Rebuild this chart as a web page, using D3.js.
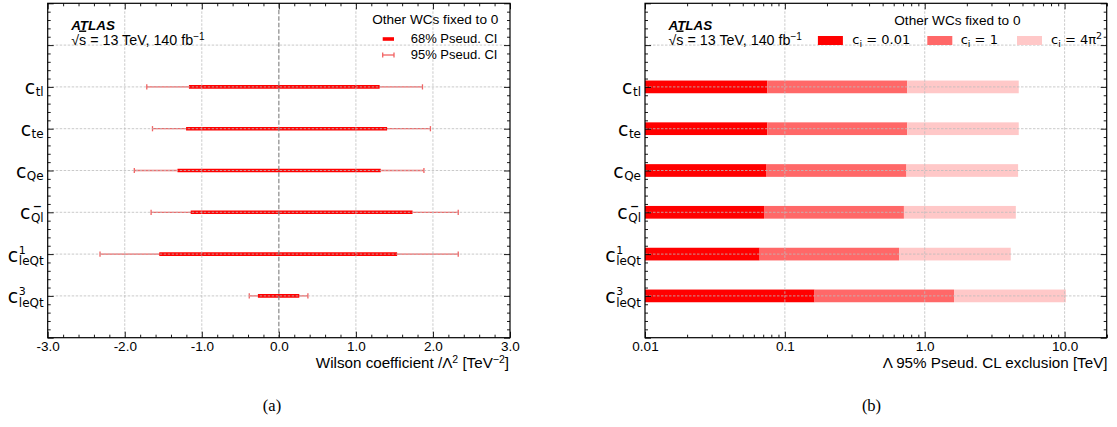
<!DOCTYPE html>
<html><head><meta charset="utf-8">
<script src="https://cdn.jsdelivr.net/npm/d3@7"></script>
<style>
body{margin:0;background:#fff;}
svg{display:block;font-family:"Liberation Sans",Arial,sans-serif;}
</style>
</head><body>
<svg id="chart" width="1117" height="427"></svg>
<script>
// ---------------- data ----------------
const categories = ["ctl", "cte", "cQe", "cQl", "c1leQt", "c3leQt"];
const labelSub = ["tl", "te", "Qe", "Ql", "leQt", "leQt"];
const labelSup = ["", "", "", "\u2212", "1", "3"];
// panel (a): Wilson coefficient / Lambda^2 intervals [TeV^-2]
const ci68Low  = [-1.167, -1.204, -1.315, -1.144, -1.552, -0.272];
const ci68High = [ 1.308,  1.405,  1.322,  1.735,  1.535,  0.265];
const ci95Low  = [-1.714, -1.640, -1.876, -1.658, -2.321, -0.384];
const ci95High = [ 1.864,  1.967,  1.883,  2.328,  2.328,  0.377];
// panel (b): Lambda 95% exclusion [TeV]
const lambdaC001  = [0.075, 0.075, 0.074, 0.071, 0.066, 0.163];
const lambdaC1    = [0.75,  0.75,  0.74,  0.71,  0.655, 1.62];
const lambdaC4pi2 = [4.70,  4.70,  4.65,  4.48,  4.12,  10.2];
const legendValues = ["0.01", "1", "4\u03c0"];
const xTicksA = [-3, -2, -1, 0, 1, 2, 3];
const xTickLabelsA = ["-3.0", "-2.0", "-1.0", "0.0", "1.0", "2.0", "3.0"];
const xTicksB = [0.01, 0.1, 1, 10];
const xTickLabelsB = ["0.01", "0.1", "1.0", "10.0"];

// ---------------- layout ----------------
const svg = d3.select("#chart");
const TOP = 3.3, BOTTOM = 337.7;
const A = {x0: 47.7, x1: 510};
const B = {x0: 645, x1: 1106.7};
const y = d3.scaleLinear().domain([0, 8]).range([BOTTOM, TOP]);
const yOf = i => y(categories.length - i);
const xA = d3.scaleLinear().domain([-3, 3]).range([A.x0, A.x1]);
const xB = d3.scaleLog().domain([0.01, 20]).range([B.x0, B.x1]);

const RED = "#ff0000", RED95 = "#f26262";
const COLS = ["#ff0000", "#ff6868", "#ffc8c8"];
const GRID = "#bdbdbd";
const yMajor = d3.range(0, 9);
const yMinor = d3.range(0, 8.001, 0.2).filter(v => Math.abs(v - Math.round(v)) > 1e-6);
const DV = "DejaVu Sans, sans-serif";

function frameAxes(g, x, panel, majors, labels, minors) {
  const w = panel.x1 - panel.x0;
  const bMaj = d3.axisBottom(x).tickValues(majors).tickSize(-6).tickPadding(3.3)
    .tickFormat((d, i) => labels[i]);
  const bMin = d3.axisBottom(x).tickValues(minors).tickSize(-3).tickFormat("");
  const tMaj = d3.axisTop(x).tickValues(majors).tickSize(-6).tickFormat("");
  const tMin = d3.axisTop(x).tickValues(minors).tickSize(-3).tickFormat("");
  const lMaj = d3.axisLeft(y).tickValues(yMajor).tickSize(-6).tickFormat("");
  const lMin = d3.axisLeft(y).tickValues(yMinor).tickSize(-3).tickFormat("");
  const rMaj = d3.axisRight(y).tickValues(yMajor).tickSize(-6).tickFormat("");
  const rMin = d3.axisRight(y).tickValues(yMinor).tickSize(-3).tickFormat("");
  const ax = [
    [bMaj, 0, BOTTOM], [bMin, 0, BOTTOM], [tMaj, 0, TOP], [tMin, 0, TOP],
    [lMaj, panel.x0, 0], [lMin, panel.x0, 0], [rMaj, panel.x1, 0], [rMin, panel.x1, 0]
  ];
  ax.forEach(([a, tx, ty]) => {
    const gg = g.append("g").attr("transform", `translate(${tx},${ty})`).call(a);
    gg.select(".domain").remove();
    gg.selectAll("line").attr("stroke", "#000").attr("stroke-width", 0.9);
    gg.selectAll("text").attr("font-size", 13.5).attr("fill", "#000")
      .attr("font-family", "Liberation Sans, Arial, sans-serif");
  });
  g.append("rect").attr("x", panel.x0).attr("y", TOP).attr("width", w)
    .attr("height", BOTTOM - TOP).attr("fill", "none").attr("stroke", "#000").attr("stroke-width", 1.2);
}

function gridLines(g, x, panel, vals, skip) {
  vals.filter(v => !(skip || []).includes(v)).forEach(v => {
    const px = x(v);
    if (px <= panel.x0 + 1 || px >= panel.x1 - 1) return;
    g.append("line").attr("x1", px).attr("x2", px).attr("y1", TOP).attr("y2", BOTTOM)
      .attr("stroke", GRID).attr("stroke-width", 0.8).attr("stroke-dasharray", "2.5,1.5");
  });
  d3.range(1, 8).forEach(v => {
    g.append("line").attr("x1", panel.x0).attr("x2", panel.x1).attr("y1", y(v)).attr("y2", y(v))
      .attr("stroke", GRID).attr("stroke-width", 0.8).attr("stroke-dasharray", "2.5,1.5");
  });
}

function measure(str, size) {
  const t = svg.append("text").attr("font-family", DV).attr("font-size", size).text(str);
  const w = t.node().getComputedTextLength();
  t.remove();
  return w;
}

function yLabels(g, panel) {
  categories.forEach((c, i) => {
    const cy = yOf(i);
    const subW = measure(labelSub[i], 12);
    const cW = measure("c", 19);
    const right = panel.x0 - 4;
    const subX = right - subW;
    const cX = subX - cW - 0.5;
    const hasSup = !!labelSup[i];
    const minus = labelSup[i] === "\u2212";
    const t = g.append("text").attr("font-family", DV).attr("fill", "#000");
    t.append("tspan").attr("x", cX).attr("y", cy + (hasSup && !minus ? 7.4 : 7)).attr("font-size", 19).text("c");
    if (hasSup) {
      t.append("tspan").attr("x", subX + (minus ? 1.8 : 0)).attr("y", cy + (minus ? -2.8 : -0.6))
        .attr("font-size", 11).attr("font-weight", minus ? "bold" : "normal")
        .text(labelSup[i]);
    }
    t.append("tspan").attr("x", subX).attr("y", cy + (hasSup && !minus ? 11.3 : (minus ? 9.6 : 9.2)))
      .attr("font-size", 12).text(labelSub[i]);
  });
}

function atlasLabel(g, panel) {
  const x0 = panel.x0 + 23.5;
  g.append("text").attr("x", x0).attr("y", 30).attr("font-size", 13.4)
    .attr("font-weight", "bold").attr("font-style", "italic").text("ATLAS");
  const t = g.append("text").attr("x", x0).attr("y", 44.5).attr("font-size", 14.3);
  t.append("tspan").text("\u221a");
  t.append("tspan").style("text-decoration", "overline").text("s");
  t.append("tspan").text(" =  13 TeV, 140 fb");
  t.append("tspan").attr("dy", -5).attr("font-size", 10).text("\u22121");
}

// ================= panel (a) =================
const gA = svg.append("g");
categories.forEach((c, i) => {
  const cy = yOf(i);
  gA.append("line").attr("x1", xA(ci95Low[i])).attr("x2", xA(ci95High[i])).attr("y1", cy).attr("y2", cy)
    .attr("stroke", RED95).attr("stroke-width", 1.3);
  [ci95Low[i], ci95High[i]].forEach(v => {
    gA.append("line").attr("x1", xA(v)).attr("x2", xA(v)).attr("y1", cy - 2.6).attr("y2", cy + 2.6)
      .attr("stroke", RED95).attr("stroke-width", 1.3);
  });
  gA.append("line").attr("x1", xA(ci68Low[i])).attr("x2", xA(ci68High[i])).attr("y1", cy).attr("y2", cy)
    .attr("stroke", RED).attr("stroke-width", 3.6);
});
gridLines(gA, xA, A, xTicksA, [0]);
gA.append("line").attr("x1", xA(0)).attr("x2", xA(0)).attr("y1", TOP).attr("y2", BOTTOM)
  .attr("stroke", "#888").attr("stroke-width", 1.2).attr("stroke-dasharray", "4.5,2");
frameAxes(gA, xA, A, xTicksA, xTickLabelsA, d3.range(-3, 3.001, 0.2).filter(v => Math.abs(v - Math.round(v)) > 1e-6));
yLabels(gA, A);
atlasLabel(gA, A);
// legend (a)
gA.append("text").attr("x", 498.3).attr("y", 24).attr("text-anchor", "end").attr("font-size", 13.6)
  .text("Other WCs fixed to 0");
gA.append("line").attr("x1", 382.7).attr("x2", 394).attr("y1", 39).attr("y2", 39)
  .attr("stroke", RED).attr("stroke-width", 3.6);
gA.append("text").attr("x", 410.7).attr("y", 42.8).attr("font-size", 13).text("68% Pseud. CI");
gA.append("line").attr("x1", 382.7).attr("x2", 394).attr("y1", 55).attr("y2", 55)
  .attr("stroke", RED95).attr("stroke-width", 1.3);
[382.7, 394].forEach(v => gA.append("line").attr("x1", v).attr("x2", v).attr("y1", 52.4).attr("y2", 57.6)
  .attr("stroke", RED95).attr("stroke-width", 1.3));
gA.append("text").attr("x", 410.7).attr("y", 59.2).attr("font-size", 13).text("95% Pseud. CI");
const tA = gA.append("text").attr("x", 509).attr("y", 368).attr("text-anchor", "end").attr("font-size", 15.2);
tA.append("tspan").text("Wilson coefficient /\u039b");
tA.append("tspan").attr("dy", -5.5).attr("font-size", 10.5).text("2");
tA.append("tspan").attr("dy", 5.5).text(" [TeV");
tA.append("tspan").attr("dy", -5.5).attr("font-size", 10.5).text("\u22122");
tA.append("tspan").attr("dy", 5.5).text("]");

// ================= panel (b) =================
const gB = svg.append("g");
const series = [lambdaC001, lambdaC1, lambdaC4pi2];
const BH = 12.7;
categories.forEach((c, i) => {
  const cy = yOf(i);
  let start = 0.01;
  series.forEach((s, k) => {
    gB.append("rect").attr("x", xB(start)).attr("y", cy - BH / 2)
      .attr("width", xB(s[i]) - xB(start)).attr("height", BH).attr("fill", COLS[k]);
    start = s[i];
  });
});
gridLines(gB, xB, B, xTicksB, []);
const minorB = [];
[0.01, 0.1, 1, 10].forEach(d => { for (let k = 2; k <= 9; k++) if (k * d <= 20) minorB.push(k * d); });
minorB.push(20);
frameAxes(gB, xB, B, xTicksB, xTickLabelsB, minorB);
yLabels(gB, B);
atlasLabel(gB, B);
// legend (b)
gB.append("text").attr("x", 894.3).attr("y", 24.5).attr("font-size", 13.6).text("Other WCs fixed to 0");
const legX = [817.9, 927.3, 1017];
const legTx = [852.3, 960.7, 1051];
legX.forEach((lx, k) => {
  gB.append("rect").attr("x", lx).attr("y", 36).attr("width", 25).attr("height", 9).attr("fill", COLS[k]);
  const t = gB.append("text").attr("x", legTx[k]).attr("y", 44.3).attr("font-size", 13)
    .attr("font-family", DV);
  t.append("tspan").text("c");
  t.append("tspan").attr("dy", 2.5).attr("font-size", 9.5).text("i");
  t.append("tspan").attr("dy", -2.5).text(" = " + legendValues[k]);
  if (k === 2) t.append("tspan").attr("dy", -5).attr("font-size", 9.5).text("2");
});
gB.append("text").attr("x", 1107.5).attr("y", 368).attr("text-anchor", "end").attr("font-size", 15.2)
  .text("\u039b 95% Pseud. CL exclusion [TeV]");

// captions
svg.append("text").attr("x", 272).attr("y", 411).attr("text-anchor", "middle")
  .attr("font-family", "Liberation Serif, serif").attr("font-size", 16.5).text("(a)");
svg.append("text").attr("x", 871.5).attr("y", 411).attr("text-anchor", "middle")
  .attr("font-family", "Liberation Serif, serif").attr("font-size", 16.5).text("(b)");
</script>
</body></html>
